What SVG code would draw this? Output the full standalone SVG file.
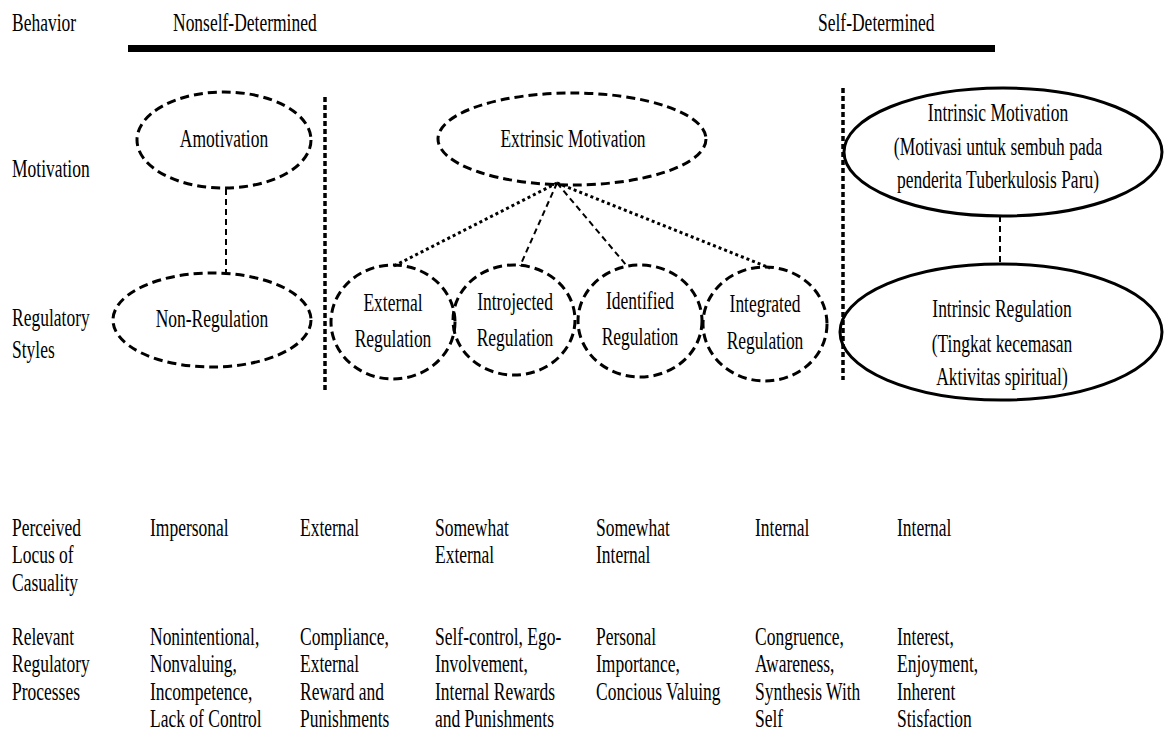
<svg xmlns="http://www.w3.org/2000/svg" width="1169" height="742" viewBox="0 0 1169 742">
<style>
.t{font-family:"Liberation Serif","Times New Roman",serif;font-size:25px;fill:#000}
.m{text-anchor:middle}
.de{fill:none;stroke:#000;stroke-width:3;stroke-dasharray:9 5}
.so{fill:none;stroke:#000;stroke-width:3}
.sep{stroke:#000;stroke-width:3.5;stroke-dasharray:5 3;fill:none}
.dot{stroke:#000;stroke-width:3;stroke-dasharray:3 3;fill:none}
.dash{stroke:#000;stroke-width:2;stroke-dasharray:6 4;fill:none}
</style>
<rect width="1169" height="742" fill="#fff"/>
<g id="header">
<text class="t" transform="translate(12,31) scale(0.7,1)">Behavior</text>
<text class="t" transform="translate(173,31) scale(0.7,1)">Nonself-Determined</text>
<text class="t" transform="translate(818,31) scale(0.7,1)">Self-Determined</text>
<rect x="128" y="45" width="867" height="7" fill="#000"/>
</g>
<g id="row-labels">
<text class="t" transform="translate(12,177) scale(0.7,1)">Motivation</text>
<text class="t" transform="translate(12,326) scale(0.7,1)"><tspan x="0" y="0">Regulatory</tspan><tspan x="0" y="32">Styles</tspan></text>
</g>
<g id="connectors">
<line class="sep" x1="325" y1="97" x2="325" y2="390"/>
<line class="sep" x1="843" y1="88" x2="843" y2="380"/>
<line class="dash" x1="226" y1="189" x2="226" y2="272" stroke-width="2.5"/>
<line class="dot" x1="557" y1="183" x2="394" y2="266"/>
<line class="dash" x1="557" y1="183" x2="520" y2="266"/>
<line class="dash" x1="557" y1="183" x2="627" y2="266"/>
<line class="dot" x1="557" y1="183" x2="770" y2="268"/>
<line class="dash" x1="1000" y1="216" x2="1000" y2="264" stroke-width="2.5"/>
</g>
<g id="amotivation">
<ellipse class="de" cx="224" cy="140" rx="87" ry="48"/>
<text class="t m" transform="translate(224,147) scale(0.7,1)">Amotivation</text>
</g>
<g id="non-regulation">
<ellipse class="de" cx="212" cy="320" rx="99" ry="47"/>
<text class="t m" transform="translate(212,327) scale(0.7,1)">Non-Regulation</text>
</g>
<g id="extrinsic-motivation">
<ellipse class="de" cx="572" cy="139" rx="134" ry="46"/>
<text class="t m" transform="translate(573,147) scale(0.7,1)">Extrinsic Motivation</text>
</g>
<g id="external-regulation">
<ellipse class="de" cx="393" cy="322" rx="62" ry="57"/>
<text class="t m" transform="translate(393,311) scale(0.7,1)"><tspan x="0" y="0">External</tspan><tspan x="0" y="36">Regulation</tspan></text>
</g>
<g id="introjected-regulation">
<ellipse class="de" cx="514" cy="320" rx="61" ry="55"/>
<text class="t m" transform="translate(515,310) scale(0.7,1)"><tspan x="0" y="0">Introjected</tspan><tspan x="0" y="36">Regulation</tspan></text>
</g>
<g id="identified-regulation">
<ellipse class="de" cx="640" cy="321" rx="62" ry="56"/>
<text class="t m" transform="translate(640,309) scale(0.7,1)"><tspan x="0" y="0">Identified</tspan><tspan x="0" y="36">Regulation</tspan></text>
</g>
<g id="integrated-regulation">
<ellipse class="de" cx="765" cy="324" rx="62" ry="57"/>
<text class="t m" transform="translate(765,312) scale(0.7,1)"><tspan x="0" y="0">Integrated</tspan><tspan x="0" y="37">Regulation</tspan></text>
</g>
<g id="intrinsic-motivation">
<ellipse class="so" cx="1003" cy="152" rx="159" ry="64"/>
<text class="t m" transform="translate(998,121) scale(0.7,1)"><tspan x="0" y="0">Intrinsic Motivation</tspan><tspan x="0" y="34">(Motivasi untuk sembuh pada</tspan><tspan x="0" y="67">penderita Tuberkulosis Paru)</tspan></text>
</g>
<g id="intrinsic-regulation">
<ellipse class="so" cx="1001" cy="332" rx="161" ry="68"/>
<text class="t m" transform="translate(1002,317) scale(0.7,1)"><tspan x="0" y="0">Intrinsic Regulation</tspan><tspan x="0" y="35">(Tingkat kecemasan</tspan><tspan x="0" y="68">Aktivitas spiritual)</tspan></text>
</g>
<g id="locus">
<text class="t" transform="translate(12,536) scale(0.7,1)"><tspan x="0" y="0">Perceived</tspan><tspan x="0" y="27.5">Locus of</tspan><tspan x="0" y="55">Casuality</tspan></text>
<text class="t" transform="translate(150,536) scale(0.7,1)">Impersonal</text>
<text class="t" transform="translate(300,536) scale(0.7,1)">External</text>
<text class="t" transform="translate(435,536) scale(0.7,1)"><tspan x="0" y="0">Somewhat</tspan><tspan x="0" y="27.5">External</tspan></text>
<text class="t" transform="translate(596,536) scale(0.7,1)"><tspan x="0" y="0">Somewhat</tspan><tspan x="0" y="27.5">Internal</tspan></text>
<text class="t" transform="translate(755,536) scale(0.7,1)">Internal</text>
<text class="t" transform="translate(897,536) scale(0.7,1)">Internal</text>
</g>
<g id="processes">
<text class="t" transform="translate(12,645) scale(0.7,1)"><tspan x="0" y="0">Relevant</tspan><tspan x="0" y="27.5">Regulatory</tspan><tspan x="0" y="55">Processes</tspan></text>
<text class="t" transform="translate(150,645) scale(0.7,1)"><tspan x="0" y="0">Nonintentional,</tspan><tspan x="0" y="27.5">Nonvaluing,</tspan><tspan x="0" y="55">Incompetence,</tspan><tspan x="0" y="82.5">Lack of Control</tspan></text>
<text class="t" transform="translate(300,645) scale(0.7,1)"><tspan x="0" y="0">Compliance,</tspan><tspan x="0" y="27.5">External</tspan><tspan x="0" y="55">Reward and</tspan><tspan x="0" y="82.5">Punishments</tspan></text>
<text class="t" transform="translate(435,645) scale(0.7,1)"><tspan x="0" y="0">Self-control, Ego-</tspan><tspan x="0" y="27.5">Involvement,</tspan><tspan x="0" y="55">Internal Rewards</tspan><tspan x="0" y="82.5">and Punishments</tspan></text>
<text class="t" transform="translate(596,645) scale(0.7,1)"><tspan x="0" y="0">Personal</tspan><tspan x="0" y="27.5">Importance,</tspan><tspan x="0" y="55">Concious Valuing</tspan></text>
<text class="t" transform="translate(755,645) scale(0.7,1)"><tspan x="0" y="0">Congruence,</tspan><tspan x="0" y="27.5">Awareness,</tspan><tspan x="0" y="55">Synthesis With</tspan><tspan x="0" y="82.5">Self</tspan></text>
<text class="t" transform="translate(897,645) scale(0.7,1)"><tspan x="0" y="0">Interest,</tspan><tspan x="0" y="27.5">Enjoyment,</tspan><tspan x="0" y="55">Inherent</tspan><tspan x="0" y="82.5">Stisfaction</tspan></text>
</g>
</svg>
